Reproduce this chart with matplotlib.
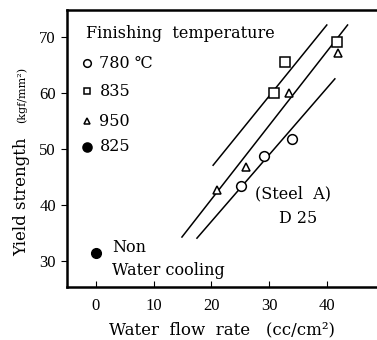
import matplotlib
matplotlib.use("Agg")
import matplotlib.pyplot as plt

plt.rcParams['font.family'] = ['DejaVu Serif', 'DejaVu Sans']

# data
flow_780 = [25.1, 29.1, 33.9]
ys_780 = [43.4, 48.7, 51.8]
flow_835 = [30.8, 32.7, 41.7]
ys_835 = [60.0, 65.5, 69.1]
flow_950 = [21.0, 26.0, 33.4, 41.9]
ys_950 = [42.7, 46.8, 60.0, 67.1]
flow_825 = [0]
ys_825 = [31.4]

# fitted lines (endpoints)
upper_x = [20.3, 40.0]
upper_y = [47.1, 72.1]
middle_x = [14.9, 43.6]
middle_y = [34.3, 72.1]
lower_x = [17.5, 41.4]
lower_y = [34.1, 62.5]

xticks = [0, 10, 20, 30, 40]
yticks = [30, 40, 50, 60, 70]

fig = plt.figure(figsize=(3.77, 3.40), dpi=100)
ax = fig.add_axes([0.178, 0.156, 0.822, 0.815])

for lx, ly in [(upper_x, upper_y), (middle_x, middle_y), (lower_x, lower_y)]:
    ax.plot(lx, ly, color='black', lw=1.1)

mk = dict(color='black', mfc='white', mew=1.1, ls='none')
ax.plot(flow_780, ys_780, marker='o', ms=7, **mk)
ax.plot(flow_835, ys_835, marker='s', ms=6.5, **mk)
ax.plot(flow_950, ys_950, marker='^', ms=5.5, **mk)
ax.plot(flow_825, ys_825, marker='o', ms=7, color='black', ls='none')

# legend drawn by hand like the original
ax.text(-1.7, 70.5, 'Finishing  temperature', fontsize=11.5, va='center')
leg = [('o', 'white', 5.5, 65.3, '780 ℃'), ('s', 'white', 5, 60.3, '835'),
       ('^', 'white', 4.5, 54.9, '950'), ('o', 'black', 6.5, 50.4, '825')]
for m, fc, s, yy, lab in leg:
    ax.plot([-1.6], [yy], marker=m, ms=s, mfc=fc, color='black', mew=1.1, ls='none')
    ax.text(0.6, yy, lab, fontsize=11.5, va='center')

ax.text(2.8, 32.4, 'Non', fontsize=11.5, va='center')
ax.text(2.8, 28.4, 'Water cooling', fontsize=11.5, va='center')
ax.text(27.5, 42.0, '(Steel  A)', fontsize=11.5, va='center')
ax.text(35.0, 37.6, 'D 25', fontsize=11.5, va='center', ha='center')

ax.set_xlim(-5, 48.7)
ax.set_ylim(25.4, 74.8)
ax.set_xticks(xticks)
ax.set_yticks(yticks)
ax.tick_params(axis='x', direction='in', length=4, labelsize=12, pad=8)
ax.tick_params(axis='y', direction='out', length=4, labelsize=12, pad=4)
for lab in ax.get_xticklabels() + ax.get_yticklabels():
    lab.set_family('Liberation Serif')

for s in ['left', 'bottom', 'top']:
    ax.spines[s].set_linewidth(1.8)
ax.spines['right'].set_visible(False)

ax.set_xlabel('Water  flow  rate   (cc/cm²)', fontsize=12, labelpad=5)
fig.text(0.058, 0.42, 'Yield strength', rotation=90, fontsize=12, ha='center', va='center')
fig.text(0.058, 0.72, '(kgf/mm²)', rotation=90, fontsize=8, ha='center', va='center')

fig.savefig('out.png', dpi=100)
